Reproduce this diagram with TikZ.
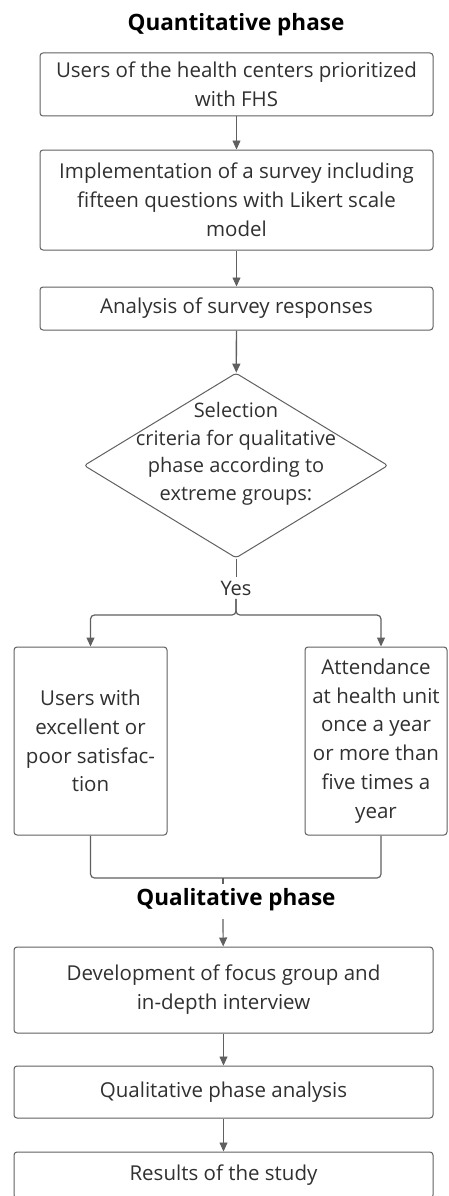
\documentclass[tikz,border=0pt]{standalone}
\usepackage{fontspec}
\setmainfont{Open Sans}
\usetikzlibrary{arrows.meta,shapes.geometric}
\definecolor{cor_line}{HTML}{606060}
\definecolor{cor_text}{HTML}{303030}

\begin{document}
\begin{tikzpicture}[x=1pt,y=-1pt]
        \tikzset{
            caixa/.style={
                draw=cor_line,
                line width=1pt,
                rounded corners=3pt,
                inner sep=0pt,
                align=center,
                text=cor_text,
                font=\fontsize{20.5}{28.8}\selectfont,
                minimum width=#1
            },
            caixa/.default=393pt,
            losango/.style={
                draw=cor_line,
                line width=1pt,
                diamond,
                rounded corners=3pt,
                inner sep=0pt,
                minimum width=304pt,
                minimum height=185pt
            },
            texto/.style={
                text=cor_text,
                align=center,
                font=\fontsize{20}{27.5}\selectfont
            },
            titulo/.style={
                font=\bfseries\fontsize{22.5}{26}\selectfont
            },
            seta/.style={
                draw=cor_line,
                line width=#1,
                -{Triangle[length=9pt,width=8pt]}
            },
            seta/.default=0.8pt
        }
        \useasboundingbox (0,0) rectangle (448,1196);

        %FASE QUANTITATIVA
        \node[titulo] (quanti) at (236,25) {Quantitative phase};
        \node[caixa, minimum height=63pt] (usuarios) at (236.5,84.5)
            {Users of the health centers prioritized\\with FHS};
        \node[caixa, minimum height=100pt] (questionario) at (236.5,200)
            {Implementation of a survey including\\fifteen questions with Likert scale\\model};
        \node[caixa, minimum height=43pt] (analise) at (236.5,308.5)
            {Analysis of survey responses};
        \node[losango] (criterio) at (236,465.5) {};
        \node[texto] (criteriotxt) at (236,454)
            {Selection\\criteria for qualitative\\phase according to\\extreme groups:};
        \node[texto] (sim) at (236,588) {Yes};

        %GRUPOS EXTREMOS
        \node[caixa=153pt, minimum height=188pt] (satisfacao) at (90.5,741)
            {Users with\\excellent or\\poor satisfac-\\tion};
        \node[caixa=142pt, minimum height=188pt] (frequencia) at (376,741)
            {Attendance\\at health unit\\once a year\\or more than\\five times a\\year};

        %FASE QUALITATIVA
        \node[titulo] (quali) at (236,900) {Qualitative phase};
        \node[caixa=419pt, minimum height=86pt] (grupo) at (223.5,990)
            {Development of focus group and\\in-depth interview};
        \node[caixa=419pt, minimum height=52pt] (analisequali) at (223.5,1092)
            {Qualitative phase analysis};
        \node[caixa=419pt, minimum height=46pt] (resultado) at (223.5,1175)
            {Results of the study};

        \coordinate (divide) at (236,615);
        \coordinate (uniao) at (223,878);
        \coordinate (quali_in) at (223,919);

        \draw[seta] (usuarios) -- (questionario);
        \draw[seta] (questionario) -- (analise);
        \draw[seta=1.3pt] (analise) -- (criterio);
        \draw[cor_line, line width=0.8pt] (criterio.south) -- (sim.north);
        \draw[seta=1.2pt, rounded corners=4pt] (sim.south) -- (divide) -| (satisfacao.north);
        \draw[seta=1.2pt, rounded corners=4pt] (sim.south) -- (divide) -| ([xshift=5pt]frequencia.north);
        \draw[cor_line, line width=1.2pt, rounded corners=4pt] (satisfacao.south) |- (uniao) -| ([xshift=5pt]frequencia.south);
        \draw[cor_line, line width=1.2pt] (uniao) -- ++(0,6);
        \draw[seta=1.2pt] (quali_in) -- (grupo);
        \draw[seta] (grupo) -- (analisequali);
        \draw[seta] (analisequali) -- (resultado);

    \end{tikzpicture}
\end{document}
